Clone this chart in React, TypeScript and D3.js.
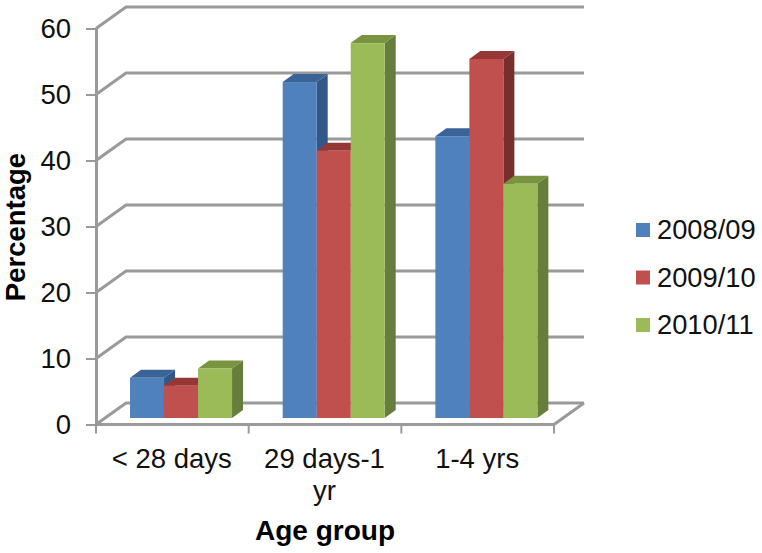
import React, { useRef, useEffect } from "react";
import * as d3 from "d3";

const categories = ["< 28 days", "29 days-1 yr", "1-4 yrs"];
const categoryLines = [["< 28 days"], ["29 days-1", "yr"], ["1-4 yrs"]];
const seriesNames = ["2008/09", "2009/10", "2010/11"];
const values2008 = [6.1, 50.9, 42.7];
const values2009 = [4.9, 40.5, 54.4];
const values2010 = [7.5, 56.8, 35.5];
const yTicks = [0, 10, 20, 30, 40, 50, 60];

const frontColors = ["#4f81bd", "#c0504d", "#9bbb59"];
const topColors = ["#3a6396", "#953735", "#789440"];
const sideColors = ["#33578a", "#772f2d", "#677d3b"];

const App = () => {
  const svgRef = useRef<SVGSVGElement>(null);

  useEffect(() => {
    const svg = d3.select(svgRef.current);
    svg.selectAll("*").remove();

    const font = "'Liberation Sans', Arial, sans-serif";
    const axisColor = "#9a9a9a";
    const textColor = "#111";

    // x axis runs on the front edge of the floor
    const x = d3.scaleBand().domain(categories).range([96, 554]);
    const y = d3.scaleLinear().domain([0, 60]).range([424.5, 28.5]);

    // 3d offsets
    const wallDx = 30;
    const wallDy = -21.5;
    const barDx = 8.7;
    const barDy = -6.5;
    const depthX = 11;
    const depthY = -8;

    const xSeries = d3
      .scaleBand()
      .domain(seriesNames)
      .range([0, x.bandwidth()])
      .paddingOuter(0.745)
      .paddingInner(0);

    // gridlines, diagonal on the side wall then across the back wall
    const line = d3.line();
    yTicks.forEach((t) => {
      svg
        .append("path")
        .attr(
          "d",
          line([
            [96, y(t)],
            [96 + wallDx, y(t) + wallDy],
            [554 + wallDx, y(t) + wallDy],
          ])
        )
        .attr("fill", "none")
        .attr("stroke", axisColor)
        .attr("stroke-width", 3);
    });
    svg
      .append("path")
      .attr(
        "d",
        line([
          [554, y(0)],
          [554 + wallDx, y(0) + wallDy],
        ])
      )
      .attr("stroke", axisColor)
      .attr("stroke-width", 3);

    // axes
    const yAxis = svg
      .append("g")
      .attr("transform", "translate(96,0)")
      .call(d3.axisLeft(y).tickValues(yTicks).tickSize(10).tickSizeOuter(0).tickPadding(15));
    yAxis.select("path").attr("stroke", axisColor).attr("stroke-width", 3);
    yAxis.selectAll("line").attr("stroke", axisColor).attr("stroke-width", 2);
    yAxis
      .selectAll("text")
      .attr("fill", textColor)
      .style("font-family", font)
      .style("font-size", "27.5px");

    const boundaries = [...categories.map((c) => x(c)), 554];
    svg
      .selectAll(".xtick")
      .data(boundaries)
      .enter()
      .append("line")
      .attr("class", "xtick")
      .attr("x1", (d) => d)
      .attr("x2", (d) => d)
      .attr("y1", y(0))
      .attr("y2", y(0) + 9)
      .attr("stroke", axisColor)
      .attr("stroke-width", 2);
    svg
      .append("line")
      .attr("x1", 96)
      .attr("x2", 554)
      .attr("y1", y(0))
      .attr("y2", y(0))
      .attr("stroke", axisColor)
      .attr("stroke-width", 3);

    // bars
    const allValues = [values2008, values2009, values2010];
    categories.forEach((c, i) => {
      seriesNames.forEach((s, j) => {
        const v = allValues[j][i];
        const x0 = x(c) + barDx + xSeries(s);
        const x1 = x0 + xSeries.bandwidth();
        const yB = y(0) + barDy;
        const yT = y(v) + barDy;
        const g = svg.append("g");
        g.append("path")
          .attr(
            "d",
            line([
              [x1, yT],
              [x1 + depthX, yT + depthY],
              [x1 + depthX, yB + depthY],
              [x1, yB],
            ]) + "Z"
          )
          .attr("fill", sideColors[j]);
        g.append("path")
          .attr(
            "d",
            line([
              [x0, yT],
              [x0 + depthX, yT + depthY],
              [x1 + depthX, yT + depthY],
              [x1, yT],
            ]) + "Z"
          )
          .attr("fill", topColors[j]);
        g.append("rect")
          .attr("x", x0)
          .attr("y", yT)
          .attr("width", x1 - x0)
          .attr("height", yB - yT)
          .attr("fill", frontColors[j]);
      });
    });

    // category labels
    categories.forEach((c, i) => {
      categoryLines[i].forEach((t, k) => {
        svg
          .append("text")
          .attr("x", x(c) + x.bandwidth() / 2 - 0.5)
          .attr("y", 468 + k * 32)
          .attr("text-anchor", "middle")
          .attr("fill", textColor)
          .style("font-family", font)
          .style("font-size", "27.5px")
          .text(t);
      });
    });

    // axis titles
    svg
      .append("text")
      .attr("x", 325)
      .attr("y", 540)
      .attr("text-anchor", "middle")
      .attr("fill", "#000")
      .style("font-family", font)
      .style("font-size", "28px")
      .style("font-weight", "bold")
      .text("Age group");
    svg
      .append("text")
      .attr("transform", "translate(25,227) rotate(-90)")
      .attr("text-anchor", "middle")
      .attr("fill", "#000")
      .style("font-family", font)
      .style("font-size", "27.5px")
      .style("font-weight", "bold")
      .text("Percentage");

    // legend
    const legendY = d3.scalePoint().domain(seriesNames).range([239, 334]);
    seriesNames.forEach((s, j) => {
      svg
        .append("rect")
        .attr("x", 636)
        .attr("y", legendY(s) - 16)
        .attr("width", 14)
        .attr("height", 14)
        .attr("fill", frontColors[j]);
      svg
        .append("text")
        .attr("x", 657)
        .attr("y", legendY(s))
        .attr("fill", textColor)
        .style("font-family", font)
        .style("font-size", "27.3px")
        .text(s);
    });
  }, []);

  return (
    <svg
      ref={svgRef}
      width={762}
      height={553}
      style={{ position: "absolute", left: 0, top: 0, background: "#fff" }}
    ></svg>
  );
};

export default App;
